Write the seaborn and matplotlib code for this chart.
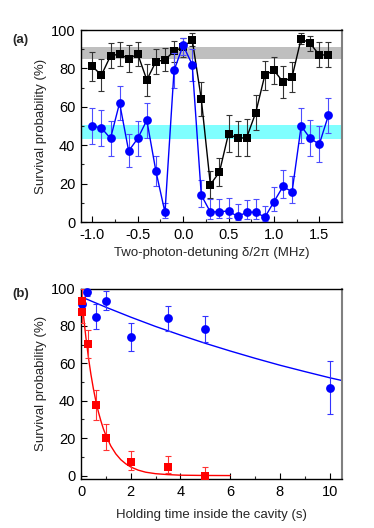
import numpy as np
import pandas as pd
import matplotlib
matplotlib.use("Agg")
import matplotlib.pyplot as plt
import seaborn as sns
from matplotlib.ticker import MultipleLocator

# ---------------- data: panel (a) ----------------
detuning = [-1.0, -0.9, -0.8, -0.7, -0.6, -0.5, -0.4, -0.3, -0.2, -0.1, 0.0,
            0.1, 0.2, 0.3, 0.4, 0.5, 0.6, 0.7, 0.8, 0.9, 1.0, 1.1, 1.2, 1.3, 1.4, 1.5, 1.6]
black_a = [81, 76.5, 86.5, 87.5, 85, 87.5, 74, 83.5, 84.5, 89, 91,
           95, 64, 19.5, 26, 46, 43.5, 44, 57, 76.5, 79, 73, 75.5, 95.5, 93, 87, 87]
black_a_err = [7.5, 8.5, 6.5, 6.5, 7, 6.5, 8.5, 6.5, 6, 5.5, 5,
               3.5, 9, 7, 7.5, 9.5, 9, 9.5, 9, 7.5, 7, 8.5, 8, 3, 4, 6.5, 6.5]
blue_a = [50, 49, 43.5, 62, 37, 43.5, 53, 26.5, 5, 79, 92,
          82, 14, 5.2, 5.4, 5.7, 2.9, 5.0, 5.2, 2.4, 10.5, 18.5, 15.7, 50, 43.5, 40.5, 55.5]
blue_a_lo = [9.5, 9.5, 9, 9, 8.5, 9, 9, 8, 3, 9, 5,
             8.5, 6, 3.5, 3.5, 3.5, 2, 3.5, 3.5, 2, 5, 6, 6, 9, 9, 9, 9]
blue_a_hi = [9.5, 9.5, 9, 9, 9, 9, 9, 8, 5, 9, 4,
             8, 8, 7, 6.5, 7, 6.5, 6.5, 7, 6, 7.5, 8.5, 8.5, 9.5, 9.5, 9.5, 9]
gray_band = (85, 91)
cyan_band = (43, 50.5)
xticks_a = [-1.0, -0.5, 0.0, 0.5, 1.0, 1.5]
xticklabels_a = ["-1.0", "-0.5", "0.0", "0.5", "1.0", "1.5"]
yticks = [0, 20, 40, 60, 80, 100]

# ---------------- data: panel (b) ----------------
t_blue = [0.05, 0.25, 0.6, 1.0, 2.0, 3.5, 5.0, 10.0]
blue_b = [91.5, 98, 85, 93.5, 74, 84, 78.5, 47]
blue_b_err = [3, 2, 6.5, 5, 7.5, 6.5, 7, 14]
t_red = [0.03, 0.05, 0.3, 0.6, 1.0, 2.0, 3.5, 5.0]
red_b = [93.5, 87.5, 70.5, 37.5, 20, 7, 4.5, 0]
red_b_lo = [6, 6, 7.5, 8, 6.5, 4, 3, 2]
red_b_hi = [6, 6, 7.5, 8, 7.5, 6, 6, 4.5]
# fitted curves
t_fit_blue = [0, 1, 2, 3, 4, 5, 6, 7, 8, 9, 10, 10.5]
fit_blue = [95.6, 90.0, 84.7, 79.7, 75.1, 70.7, 66.6, 62.7, 59.0, 55.6, 52.3, 50.8]
t_fit_red = [0, 0.05, 0.1, 0.15, 0.2, 0.3, 0.4, 0.5, 0.6, 0.7, 0.8, 0.9, 1.0, 1.2,
             1.4, 1.6, 1.8, 2.0, 2.3, 2.6, 3.0, 3.5, 4.0, 5.0, 6.0]
fit_red = [100, 92.6, 85.7, 79.4, 73.5, 63.0, 54.0, 46.3, 39.7, 34.0, 29.2, 25.0,
           21.5, 15.8, 11.6, 8.5, 6.3, 4.6, 2.9, 1.8, 1.0, 0.5, 0.2, 0.05, 0.0]
xticks_b = [0, 2, 4, 6, 8, 10]

# ---------------- style ----------------
sns.set_theme(style="ticks")
plt.rcParams["font.family"] = ["Liberation Sans", "DejaVu Sans"]
plt.rcParams["font.size"] = 9
plt.rcParams["axes.linewidth"] = 1.0

fig = plt.figure(figsize=(3.74, 5.28), dpi=100)
ax1 = fig.add_axes([81 / 374, 1 - 222 / 528, 261 / 374, 192 / 528])
ax2 = fig.add_axes([81 / 374, 1 - 479.3 / 528, 261 / 374, 190.8 / 528])

# ---------------- panel (a) ----------------
ax1.axhspan(*gray_band, color="#bfbfbf", lw=0, zorder=0)
ax1.axhspan(*cyan_band, color="#80ffff", lw=0, zorder=0)

df_black = pd.DataFrame({"x": detuning, "y": black_a})
df_blue = pd.DataFrame({"x": detuning, "y": blue_a})

ax1.errorbar(detuning, black_a, yerr=black_a_err, fmt="none", ecolor="#333333",
             elinewidth=0.8, capsize=2.2, capthick=0.8, zorder=2)
sns.lineplot(data=df_black, x="x", y="y", ax=ax1, color="black", lw=1.0,
             marker="s", markersize=5.2, markeredgewidth=0, estimator=None,
             sort=False, zorder=3, clip_on=False)
ax1.errorbar(detuning, blue_a, yerr=[blue_a_lo, blue_a_hi], fmt="none",
             ecolor="#4d4dff", elinewidth=0.8, capsize=2.2, capthick=0.8, zorder=4)
sns.lineplot(data=df_blue, x="x", y="y", ax=ax1, color="#0000ff", lw=1.0,
             marker="o", markersize=6.3, markeredgewidth=0, estimator=None,
             sort=False, zorder=5, clip_on=False)

ax1.set_xlim(-1.125, 1.75)
ax1.set_ylim(0, 100)
ax1.set_xticks(xticks_a)
ax1.set_xticklabels(xticklabels_a)
ax1.set_yticks(yticks)
ax1.xaxis.set_minor_locator(MultipleLocator(0.25))
ax1.yaxis.set_minor_locator(MultipleLocator(10))
ax1.set_xlabel("Two-photon-detuning δ/2π (MHz)", fontsize=9.5, labelpad=4)
ax1.set_ylabel("Survival probability (%)", fontsize=9.5, labelpad=3)
fig.text(12 / 374, 1 - 40 / 528, "(a)", fontsize=9.5, fontweight="bold",
         va="center", ha="left")

# ---------------- panel (b) ----------------
df_fb = pd.DataFrame({"t": t_fit_blue, "y": fit_blue})
df_fr = pd.DataFrame({"t": t_fit_red, "y": fit_red})
sns.lineplot(data=df_fb, x="t", y="y", ax=ax2, color="#0000ff", lw=1.0,
             estimator=None, sort=False, zorder=2)
sns.lineplot(data=df_fr, x="t", y="y", ax=ax2, color="#ff0000", lw=1.0,
             estimator=None, sort=False, zorder=2)

ax2.errorbar(t_blue, blue_b, yerr=blue_b_err, fmt="none", ecolor="#3333ff",
             elinewidth=0.8, capsize=2.2, capthick=0.8, zorder=3)
ax2.errorbar(t_red, red_b, yerr=[red_b_lo, red_b_hi], fmt="none", ecolor="#ff3333",
             elinewidth=0.8, capsize=2.2, capthick=0.8, zorder=3)
sns.scatterplot(x=t_blue, y=blue_b, ax=ax2, color="#0000ff", marker="o", s=40,
                linewidth=0, zorder=4, clip_on=False)
sns.scatterplot(x=t_red, y=red_b, ax=ax2, color="#ff0000", marker="s", s=27,
                linewidth=0, zorder=4, clip_on=False)

ax2.set_xlim(0, 10.5)
ax2.set_ylim(-2, 100)
ax2.set_xticks(xticks_b)
ax2.set_yticks(yticks)
ax2.xaxis.set_minor_locator(MultipleLocator(1))
ax2.yaxis.set_minor_locator(MultipleLocator(10))
ax2.set_xlabel("Holding time inside the cavity (s)", fontsize=9.5, labelpad=7)
ax2.set_ylabel("Survival probability (%)", fontsize=9.5, labelpad=3)
fig.text(12 / 374, 1 - 294 / 528, "(b)", fontsize=9.5, fontweight="bold",
         va="center", ha="left")

for ax in (ax1, ax2):
    ax.tick_params(axis="both", which="major", direction="in", length=4,
                   width=0.8, labelsize=10.5, pad=4, colors="black")
    ax.tick_params(axis="both", which="minor", direction="in", length=2,
                   width=0.8)
    for side in ("top", "right", "left", "bottom"):
        ax.spines[side].set_visible(True)
        ax.spines[side].set_color("black")
    ax.spines["right"].set_color("#808080")
    ax.spines["right"].set_linewidth(1.5)

fig.savefig("out.png", dpi=100)
